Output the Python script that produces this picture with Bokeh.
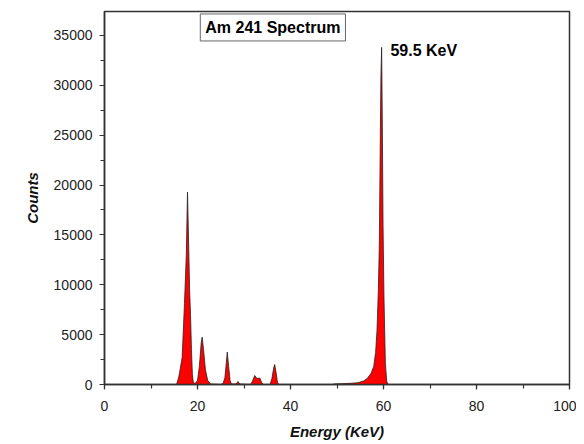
from bokeh.plotting import figure
from bokeh.models import Range1d, Label, SingleIntervalTicker
from bokeh.embed import file_html
from bokeh.resources import INLINE

# Am-241 spectrum: energy (keV) and counts
energy = [0, 15.0, 15.5, 16.0, 16.7, 17.2, 17.6, 17.85, 18.1, 18.3, 18.5, 18.7, 18.9, 19.1, 19.5,
          20.0, 20.4, 20.8, 21.0, 21.3, 21.7, 22.2, 22.8, 25.0, 25.5, 25.9, 26.2, 26.4,
          26.7, 27.0, 27.3, 28.3, 28.7, 29.1, 31.4, 31.8, 32.3, 32.8, 33.4, 33.8, 34.2,
          35.6, 36.0, 36.4, 36.6, 36.9, 37.2, 37.5, 49.0, 49.5, 51.0, 53.0, 54.5, 55.7,
          56.5, 57.3, 57.9, 58.3, 58.6, 58.9, 59.1, 59.3, 59.45, 59.6, 59.75, 59.9, 60.1,
          60.4, 60.7, 61.0, 100]
counts = [0, 0, 0, 800, 2700, 8100, 13100, 19300, 14000, 9500, 7000, 3500, 1000, 200, 100,
          400, 1800, 4200, 4750, 3500, 1500, 400, 50, 0, 100, 700, 2200, 3250,
          1800, 400, 50, 50, 300, 50, 0, 300, 900, 600, 650, 200, 0,
          0, 600, 1700, 2000, 1200, 200, 0, 0, 60, 80, 120, 180, 350,
          600, 1100, 1800, 3200, 5400, 9500, 14000, 24000, 31000, 33800, 26000, 16000, 8800,
          2100, 300, 0, 0]

title_text = "Am 241 Spectrum"
peak_text = "59.5 KeV"
x_label = "Energy (KeV)"
y_label = "Counts"

FONT = "Liberation Sans"

p = figure(frame_width=465, frame_height=373, output_backend="svg", toolbar_location=None,
           x_range=Range1d(0, 100), y_range=Range1d(0, 37400),
           min_border_left=104, min_border_right=7, min_border_top=11, min_border_bottom=10)
p.background_fill_color = "white"
p.border_fill_color = "white"
p.outline_line_color = "#333333"
p.outline_line_width = 1.5
p.grid.visible = False

p.varea(x=energy, y1=0, y2=counts, fill_color="#ff0000")
p.line(energy, counts, line_color="#222222", line_width=0.8)

p.xaxis.ticker = SingleIntervalTicker(interval=20, num_minor_ticks=2)
p.yaxis.ticker = SingleIntervalTicker(interval=5000, num_minor_ticks=2)

for ax in (p.xaxis, p.yaxis):
    ax.axis_line_color = "#333333"
    ax.axis_line_width = 1.5
    ax.major_tick_line_color = "#333333"
    ax.minor_tick_line_color = "#333333"
    ax.major_tick_line_width = 1.2
    ax.minor_tick_line_width = 1.2
    ax.major_tick_in = 0
    ax.major_tick_out = 5
    ax.minor_tick_in = 0
    ax.minor_tick_out = 4
    ax.major_label_text_font = FONT
    ax.major_label_text_font_size = "14px"
    ax.major_label_text_color = "#222222"
    ax.axis_label_text_font = FONT
    ax.axis_label_text_font_size = "15px"
    ax.axis_label_text_font_style = "bold italic"
    ax.axis_label_text_color = "#111111"

p.xaxis.axis_label = x_label
p.yaxis.axis_label = y_label
p.xaxis.major_label_standoff = 11
p.xaxis.axis_label_standoff = 9
p.yaxis.major_label_standoff = 7
p.yaxis.axis_label_standoff = 10

p.add_layout(Label(x=20.6, y=35800, text=title_text, text_font=FONT,
                   text_font_size="16px", text_font_style="bold", text_color="black",
                   text_baseline="middle", text_align="left",
                   border_line_color="#666666", border_line_width=1,
                   background_fill_color="white", padding=5))
p.add_layout(Label(x=61.5, y=33500, text=peak_text, text_font=FONT,
                   text_font_size="16px", text_font_style="bold", text_color="black",
                   text_baseline="middle", text_align="left"))

open("out.html", "w").write(file_html(p, INLINE))
